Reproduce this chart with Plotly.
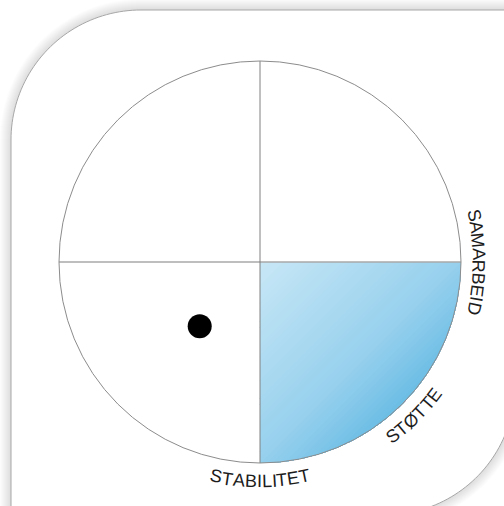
import numpy as np
import plotly.graph_objects as go

# ---------------- data ----------------
quadrant_labels = ["SAMARBEID", "STØTTE", "STABILITET"]
label_angles_deg = [0, 45, 90]          # clockwise from the right-hand axis
label_tops = ["out", "in", "in"]        # letter tops facing out of / into the circle
highlight_quadrant = [1, -1]            # sign of (x, y): lower-right quadrant
point_x = [-0.30]
point_y = [-0.32]

# ---------------- geometry / style ----------------
W, H = 504, 506
CX, CY, RP = 260.0, 262.0, 201.0        # circle centre and radius in pixels
FS = 18
RL = 219.0                              # label radius in px
FONT = "Liberation Sans, Arial, Helvetica, sans-serif"


def ux(px):
    return (np.asarray(px, float) - CX) / RP


def vy(py):
    return (CY - np.asarray(py, float)) / RP


def path_uv(us, vs):
    return "M " + " L ".join(f"{a:.5f},{b:.5f}" for a, b in zip(us, vs)) + " Z"


def rounded_card(L, T, Rr, B, r1, r2, n=48):
    xs, ys = [], []
    a = np.linspace(np.pi, 1.5 * np.pi, n)
    xs += list(L + r1 + r1 * np.cos(a)); ys += list(T + r1 + r1 * np.sin(a))
    xs += [Rr]; ys += [T]
    a = np.linspace(0, 0.5 * np.pi, n)
    xs += list(Rr - r2 + r2 * np.cos(a)); ys += list(B - r2 + r2 * np.sin(a))
    xs += [L]; ys += [B]
    return path_uv(ux(xs), vy(ys))


shapes = []
# soft shadow around the card
for k in range(11, 0, -1):
    shapes.append(dict(type="path", xref="x", yref="y", layer="below",
                       path=rounded_card(11 - k, 10 - k, 515 + k, 515 + k, 130 + k, 130 + k),
                       fillcolor="rgba(0,0,0,0.013)", line=dict(width=0)))
# card
shapes.append(dict(type="path", xref="x", yref="y", layer="below",
                   path=rounded_card(11, 10, 515, 515, 130, 130),
                   fillcolor="white", line=dict(color="#a8a8a8", width=1)))

# highlighted quadrant with diagonal gradient (layered bands)
arc = np.linspace(0, np.pi / 2, 120)
sector = [(0.0, 0.0)] + [(np.cos(a), np.sin(a)) for a in arc]


def clip(poly, t):
    out = []
    n = len(poly)
    for i in range(n):
        p = poly[i]; q = poly[(i + 1) % n]
        fp = p[0] + p[1] - t; fq = q[0] + q[1] - t
        if fp >= 0:
            out.append(p)
        if (fp >= 0) != (fq >= 0):
            s = fp / (fp - fq)
            out.append((p[0] + s * (q[0] - p[0]), p[1] + s * (q[1] - p[1])))
    return out


stops_f = [0.0, 0.7, 1.0]
stops_c = np.array([[200, 231, 246], [150, 208, 237], [108, 189, 229]], float)
NB = 48
tmax = np.sqrt(2)
sx, sy = highlight_quadrant
for i in range(NB):
    t = tmax * i / NB
    poly = clip(sector, t) if i > 0 else sector
    if len(poly) < 3:
        continue
    f = (i + 0.5) / NB
    col = [np.interp(f, stops_f, stops_c[:, j]) for j in range(3)]
    us = [sx * p[0] for p in poly]
    vs = [sy * p[1] for p in poly]
    shapes.append(dict(type="path", xref="x", yref="y", layer="below",
                       path=path_uv(us, vs),
                       fillcolor=f"rgb({col[0]:.0f},{col[1]:.0f},{col[2]:.0f})",
                       line=dict(width=0)))

# circle and axes cross
shapes.append(dict(type="line", xref="x", yref="y", layer="above", x0=-1, x1=1, y0=0, y1=0,
                   line=dict(color="#a9a9a9", width=1.5)))
shapes.append(dict(type="line", xref="x", yref="y", layer="above", x0=0, x1=0, y0=-1, y1=1,
                   line=dict(color="#808080", width=1)))
shapes.append(dict(type="circle", xref="x", yref="y", layer="above", x0=-1, x1=1, y0=-1, y1=1,
                   line=dict(color="#8c8c8c", width=1)))

# curved labels, one letter at a time
WID = {'S': .667, 'T': .611, 'A': .667, 'B': .667, 'I': .278, 'L': .556, 'E': .667,
       'Ø': .778, 'M': .833, 'R': .722, 'D': .722}
annotations = []
for text, ang, tops in zip(quadrant_labels, label_angles_deg, label_tops):
    ws = np.array([WID.get(c, .65) for c in text]) * FS
    centers = np.cumsum(ws) - ws / 2 - ws.sum() / 2
    d = 1 if tops == "out" else -1
    for c, s in zip(text, centers):
        th = np.radians(ang) + d * s / RL
        px = CX + RL * np.cos(th); py = CY + RL * np.sin(th)
        if tops == "out":
            rot = np.degrees(np.arctan2(np.cos(th), -np.sin(th)))
        else:
            rot = np.degrees(np.arctan2(-np.cos(th), np.sin(th)))
        annotations.append(dict(x=float(ux(px)), y=float(vy(py)), xref="x", yref="y",
                                text=c, textangle=float(rot), showarrow=False,
                                xanchor="center", yanchor="middle",
                                font=dict(family=FONT, size=FS, color="#1c1c1c")))

fig = go.Figure()
fig.add_trace(go.Scatter(x=point_x, y=point_y, mode="markers",
                         marker=dict(size=24, color="black"), hoverinfo="skip"))

fig.update_layout(
    width=W, height=H, margin=dict(l=0, r=0, t=0, b=0),
    paper_bgcolor="white", plot_bgcolor="white", showlegend=False,
    xaxis=dict(range=[float(ux(0)), float(ux(W))], visible=False, fixedrange=True),
    yaxis=dict(range=[float(vy(H)), float(vy(0))], visible=False, fixedrange=True),
    shapes=shapes, annotations=annotations,
)

fig.write_html("out.html", config={"displayModeBar": False},
               post_script="document.body.style.margin='0';")
